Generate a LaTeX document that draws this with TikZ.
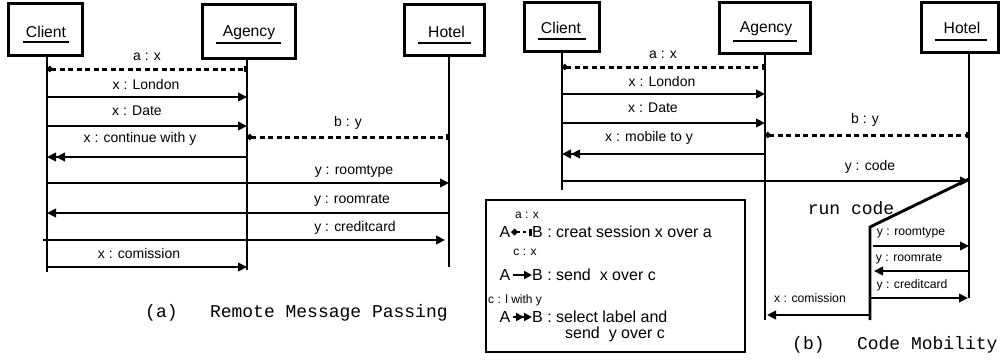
\documentclass[tikz,border=0pt]{standalone}
\usepackage{fontspec}
\setmainfont{Liberation Sans}
\newfontfamily\capfont{Liberation Mono}
\usetikzlibrary{arrows.meta,calc}
\begin{document}
\begin{tikzpicture}[x=1pt,y=-1pt,
  actorbox/.style={draw, line width=3pt, inner sep=0pt},
  actortext/.style={font=\fontsize{15.7}{18}\selectfont, inner sep=0pt},
  uline/.style={line width=1.5pt},
  life/.style={line width=2.9pt},
  lbl/.style={font=\fontsize{14}{16}\selectfont, inner sep=0pt},
  slbl/.style={font=\fontsize{12.2}{14}\selectfont, inner sep=0pt},
  tlbl/.style={font=\fontsize{12}{13}\selectfont, inner sep=0pt},
  leg/.style={font=\fontsize{16}{18}\selectfont, inner sep=0pt},
  capt/.style={font=\capfont\fontsize{18}{20}\selectfont, inner sep=0pt, anchor=west},
  msg/.style={line width=2.7pt, -{Triangle[length=9pt,width=8.5pt]}},
  sel/.style={line width=2.7pt, -{Triangle[length=9pt,width=8.5pt]Triangle[length=9pt,width=8.5pt]}},
  sess/.style={line width=3pt, dash pattern=on 5pt off 3.5pt, {Circle[length=5.5pt]}-{Square[length=3pt,width=6.5pt]}},
  lmsg/.style={line width=2.6pt, -{Triangle[length=8pt,width=8pt]}, shorten <=2pt},
  lsel/.style={line width=2.6pt, -{Triangle[length=8pt,width=8pt]Triangle[length=8pt,width=8pt]}, shorten <=2pt},
  lsess/.style={line width=2.6pt, dash pattern=on 3.5pt off 3pt, {Circle[length=6pt]}-{Square[length=3pt,width=7pt]}, shorten <=1pt}
]
\useasboundingbox (0,0) rectangle (1002,362);

% ---------------- panel (a) ----------------
\node[actorbox, minimum width=74pt, minimum height=52pt] (aClient) at (45.5,29.5) {};
\node[actortext] (aClientT) at (46,32) {Client};
\draw[uline] ($(aClientT.center)+(-23,10)$) -- ++(46,0);

\node[actorbox, minimum width=93pt, minimum height=54pt] (aAgency) at (249,31.5) {};
\node[actortext] (aAgencyT) at (249,33) {Agency};
\draw[uline] ($(aAgencyT.center)+(-33,10)$) -- ++(65,0);

\node[actorbox, minimum width=80pt, minimum height=51pt] (aHotel) at (444.5,30) {};
\node[actortext] (aHotelT) at (446.5,32) {Hotel};
\draw[uline] ($(aHotelT.center)+(-28.5,11)$) -- ++(53,0);

\coordinate (aCtop) at (47,57);  \coordinate (aCbot) at (47,272);
\coordinate (aAtop) at (247,59); \coordinate (aAbot) at (247,270);
\coordinate (aHtop) at (449,57); \coordinate (aHbot) at (449,267);
\draw[life] (aCtop) -- (aCbot);
\draw[life] (aAtop) -- (aAbot);
\draw[life] (aHtop) -- (aHbot);

\draw[sess] (aCtop |- 0,69) -- (aAtop |- 0,69);
\node[lbl] (aL1) at (147,57) {a : x};
\draw[msg] (aCtop |- 0,97) -- (aAtop |- 0,97);
\node[lbl] (aL2) at (146,84) {x : London};
\draw[msg] (aCtop |- 0,126) -- (aAtop |- 0,126);
\node[lbl] (aL3) at (137,111) {x : Date};
\draw[sel] (aAtop |- 0,157) -- (aCtop |- 0,157);
\node[lbl] (aL4) at (140,139) {x : continue with y};
\draw[sess] (aAtop |- 0,137) -- (aHtop |- 0,137);
\node[lbl] (aL5) at (348,123) {b : y};
\draw[msg] (aCtop |- 0,183) -- (aHtop |- 0,183);
\node[lbl] (aL6) at (354,171) {y : roomtype};
\draw[msg] (aHtop |- 0,213) -- (aCtop |- 0,213);
\node[lbl] (aL7) at (352,200) {y : roomrate};
\draw[msg] ($(aCtop |- 0,240)+(-4,0)$) -- ($(aHtop |- 0,240)+(-4,0)$);
\node[lbl] (aL8) at (355,228) {y : creditcard};
\draw[msg] (aCtop |- 0,267) -- (aAtop |- 0,267);
\node[lbl] (aL9) at (139,253) {x : comission};

\node[capt] (capA) at (145,313) {(a)\ \ \ Remote Message Passing};

% ---------------- panel (b) ----------------
\node[actorbox, minimum width=75pt, minimum height=49pt] (bClient) at (562,27) {};
\node[actortext] (bClientT) at (561,28) {Client};
\draw[uline] ($(bClientT.center)+(-23,11)$) -- ++(48,0);

\node[actorbox, minimum width=91pt, minimum height=51pt] (bAgency) at (765,28) {};
\node[actortext] (bAgencyT) at (766,29) {Agency};
\draw[uline] ($(bAgencyT.center)+(-33,12)$) -- ++(64,0);

\node[actorbox, minimum width=77pt, minimum height=50pt] (bHotel) at (960,27.5) {};
\node[actortext] (bHotelT) at (962,28) {Hotel};
\draw[uline] ($(bHotelT.center)+(-27.5,12)$) -- ++(52,0);

\coordinate (bCtop) at (562,53);  \coordinate (bCbot) at (562,190);
\coordinate (bAtop) at (765,55);  \coordinate (bAbot) at (765,320);
\coordinate (bHtop) at (969,54);  \coordinate (bHbot) at (969,298);
\coordinate (bRtop) at (870,227); \coordinate (bRbot) at (870,320);
\draw[life] (bCtop) -- (bCbot);
\draw[life] (bAtop) -- (bAbot);
\draw[life] (bHtop) -- (bHbot);

\draw[sess] (bCtop |- 0,67) -- (bAtop |- 0,67);
\node[lbl] (bL1) at (663,55) {a : x};
\draw[msg] (bCtop |- 0,94) -- (bAtop |- 0,94);
\node[lbl] (bL2) at (662,81) {x : London};
\draw[msg] (bCtop |- 0,123) -- (bAtop |- 0,123);
\node[lbl] (bL3) at (653,108) {x : Date};
\draw[sel] (bAtop |- 0,154) -- (bCtop |- 0,154);
\node[lbl] (bL4) at (649,138) {x : mobile to y};
\draw[sess] (bAtop |- 0,135) -- (bHtop |- 0,135);
\node[lbl] (bL5) at (865,120) {b : y};
\draw[msg] (bCtop |- 0,181) -- (bHtop |- 0,181);
\node[lbl] (bL6) at (870,167) {y : code};

\draw[life] (bHtop |- 0,179) -- (bRtop) -- (bRbot);
\node[capt, anchor=center] (runcode) at (851,208) {run code};

\draw[msg] ($(bRtop |- 0,246)+(3,0)$) -- (bHtop |- 0,246);
\node[slbl] (bL7) at (911,233) {y : roomtype};
\draw[msg] (bHtop |- 0,271) -- ($(bRtop |- 0,271)+(4,0)$);
\node[slbl] (bL8) at (909,259) {y : roomrate};
\draw[msg] (bRtop |- 0,298) -- ($(bHtop |- 0,298)+(-1,0)$);
\node[slbl] (bL9) at (912,285) {y : creditcard};
\draw[msg] (bRtop |- 0,315) -- ($(bAtop |- 0,315)+(2,0)$);
\node[slbl] (bL10) at (810,298) {x : comission};

\node[capt] (capB) at (792,345) {(b)\ \ \ Code Mobility};

% ---------------- legend ----------------
\node[draw, line width=1.6pt, inner sep=0pt, minimum width=259.5pt, minimum height=152.5pt] (legend) at (615.5,276) {};
\node[tlbl] (lT1) at (527,215) {a : x};
\node[leg] (lA1) at (505,232) {A};
\node[leg, anchor=west] (lB1) at (532,232) {B : creat session x over a};
\draw[lsess] (lA1.east) -- (lB1.west);
\node[tlbl] (lT2) at (525,252) {c : x};
\node[leg] (lA2) at (505,275) {A};
\node[leg, anchor=west] (lB2) at (532,275) {B : send\ \ x over c};
\draw[lmsg] (lA2.east) -- (lB2.west);
\node[tlbl, anchor=west] (lT3) at (488,300) {c : l with y};
\node[leg] (lA3) at (505,317) {A};
\node[leg, anchor=west] (lB3) at (532,317) {B : select label and};
\draw[lsel] (lA3.east) -- (lB3.west);
\node[leg, anchor=west] (lB3b) at (565,334) {send\ \ y over c};
\end{tikzpicture}
\end{document}
